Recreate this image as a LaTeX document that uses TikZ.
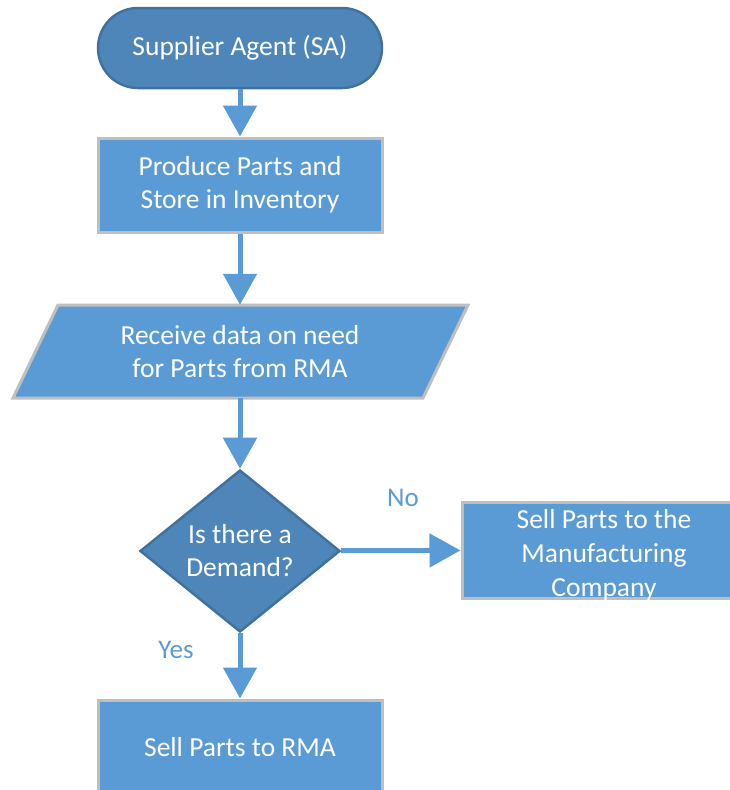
\documentclass[tikz,border=0pt]{standalone}
\usepackage{fontspec}
\setmainfont{Carlito}
\usetikzlibrary{arrows.meta,shapes.geometric}
\definecolor{boxblue}{RGB}{91,155,213}
\definecolor{darkblue}{RGB}{79,134,186}
\definecolor{darkedge}{RGB}{65,113,156}
\definecolor{greyedge}{RGB}{191,191,191}
\tikzset{
  procbox/.style={rectangle, fill=boxblue, draw=greyedge, line width=3pt, minimum width=284pt, minimum height=94pt, text=white, align=center, font=\fontsize{27.5}{33}\selectfont, inner sep=0pt},
  termbox/.style={rectangle, rounded corners=40pt, fill=darkblue, draw=darkedge, line width=2.5pt, minimum width=284pt, minimum height=80pt, text=white, font=\fontsize{27.5}{33}\selectfont, inner sep=0pt},
  decbox/.style={diamond, fill=darkblue, draw=darkedge, line width=2.5pt, minimum width=200pt, minimum height=162pt, text=white, align=center, font=\fontsize{27.5}{33}\selectfont, inner sep=0pt},
  plainbox/.style={rectangle, minimum width=410pt, minimum height=93pt, text=white, align=center, font=\fontsize{27.5}{33}\selectfont, inner sep=0pt},
  flowarrow/.style={draw=boxblue, line width=5pt, -{Triangle[length=31pt,width=33pt]}, color=boxblue},
  lbl/.style={text=boxblue, font=\fontsize{27}{30}\selectfont, inner sep=0pt}
}
\begin{document}
\begin{tikzpicture}[x=1pt,y=-1pt]
\useasboundingbox (0,0) rectangle (730,790);
\clip (0,0) rectangle (730,790);
\node[termbox] (sa) at (240,48) {Supplier Agent (SA)};
\node[procbox] (produce) at (240,185) {Produce Parts and\\Store in Inventory};
\fill[boxblue, draw=greyedge, line width=3pt] (58,305) -- (468,305) -- (423,398) -- (13,398) -- cycle;
\node[plainbox] (receive) at (240,351.5) {Receive data on need\\for Parts from RMA};
\node[decbox] (demand) at (240,551) {Is there a\\Demand?};
\node[procbox, minimum height=96pt] (sellmfg) at (604,550) {};
\node[text=white, align=center, font=\fontsize{27.5}{34}\selectfont, inner sep=0pt] (sellmfgtxt) at (604,555) {Sell Parts to the\\Manufacturing\\Company};
\node[procbox] (sellrma) at (240,747) {Sell Parts to RMA};
\draw[flowarrow] (sa) -- (produce);
\draw[flowarrow] (produce) -- (receive);
\draw[flowarrow] (receive) -- (demand);
\draw[flowarrow] (demand) -- (sellmfg);
\draw[flowarrow] (demand) -- (sellrma);
\node[lbl] (no) at (403,498) {No};
\node[lbl] (yes) at (176,650) {Yes};
\end{tikzpicture}
\end{document}
